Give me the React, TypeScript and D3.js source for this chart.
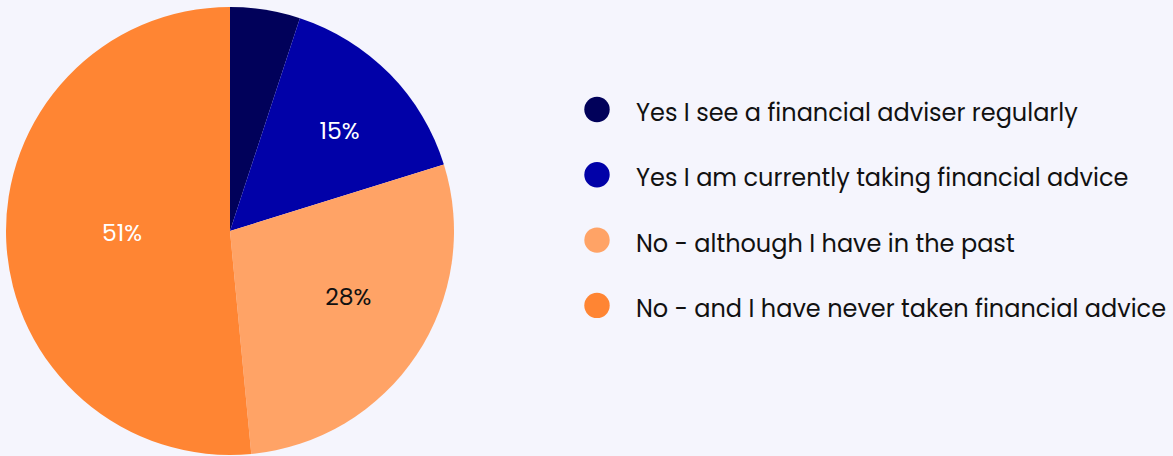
import React from "react";
import * as d3 from "d3";

const categories = [
  "Yes I see a financial adviser regularly",
  "Yes I am currently taking financial advice",
  "No - although I have in the past",
  "No - and I have never taken financial advice",
];
const values = [5, 15, 28, 51];
const colors = ["#01015a", "#0101a8", "#ffa366", "#ff8533"];
const labelColors = ["#ffffff", "#ffffff", "#111111", "#ffffff"];
const labelRadiusFactor = [0.6, 0.665, 0.603, 0.482];
const labelAngleShiftDeg = [0, 1.9, -4.8, 1.8];

const W = 1173;
const H = 456;
const cx = 230;
const cy = 231;
const R = 224;

export default function App() {
  const pie = d3.pie<number>().sort(null).value((d) => d);
  const arcs = pie(values);
  const arcGen = d3.arc<d3.PieArcDatum<number>>().innerRadius(0).outerRadius(R);
  const font = "Poppins, 'Open Sans', sans-serif";
  return (
    <div style={{ position: "fixed", left: 0, top: 0, width: W, height: H, background: "#f5f5fd" }}>
      <svg width={W} height={H} style={{ display: "block" }}>
        <rect width={W} height={H} fill="#f5f5fd" />
        <g transform={`translate(${cx},${cy})`}>
          {arcs.map((a, i) => (
            <path key={i} d={arcGen(a) || ""} fill={colors[i]} />
          ))}
          {arcs.map((a, i) => {
            if (a.data < 10) return null;
            const mid = (a.startAngle + a.endAngle) / 2 + (labelAngleShiftDeg[i] * Math.PI) / 180;
            const r = R * labelRadiusFactor[i];
            const x = Math.sin(mid) * r;
            const y = -Math.cos(mid) * r;
            return (
              <text
                key={i}
                x={x}
                y={y}
                textAnchor="middle"
                dominantBaseline="central"
                fontFamily={font}
                fontSize={23.5}
                fill={labelColors[i]}
              >
                {a.data}%
              </text>
            );
          })}
        </g>
        <g>
          {categories.map((c, i) => (
            <g key={i} transform={`translate(597,${109.5 + i * 65.3})`}>
              <circle r={12.7} fill={colors[i]} />
              <text x={39} y={3} dominantBaseline="central" fontFamily={font} fontSize={24} fill="#111111">
                {c}
              </text>
            </g>
          ))}
        </g>
      </svg>
    </div>
  );
}
